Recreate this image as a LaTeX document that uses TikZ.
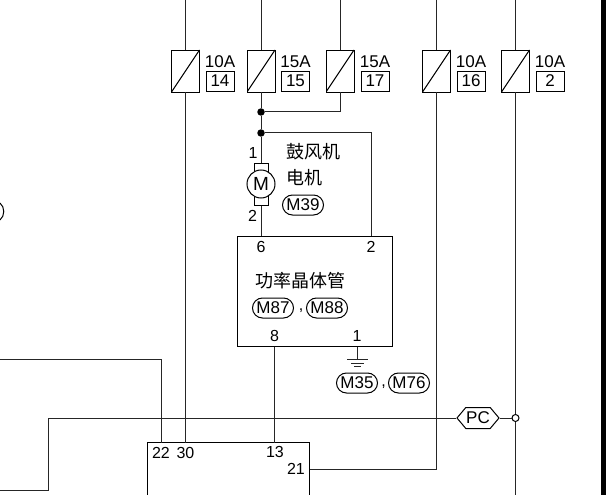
\documentclass[tikz,border=0pt]{standalone}
\usepackage{fontspec}
\setmainfont{Liberation Sans}
\newfontfamily\cjk{Noto Sans CJK SC}
\usetikzlibrary{positioning, shapes.misc, shapes.symbols}

\begin{document}
\begin{tikzpicture}[
        x=1pt, y=-1pt,
        node distance=6pt,
        every node/.style={font=\fontsize{16}{18}\selectfont, inner sep=0pt},
        fuse/.style={rectangle, draw, line width=0.9pt, minimum width=28pt, minimum height=42pt,
            path picture={\draw[line width=1pt] (path picture bounding box.south west) -- (path picture bounding box.north east);}},
        rating/.style={font=\fontsize{17}{18}\selectfont},
        fusebox/.style={rectangle, draw, line width=0.9pt, minimum width=28pt, minimum height=20pt, font=\fontsize{17}{18}\selectfont},
        conn/.style={rounded rectangle, draw, line width=1pt, minimum width=41pt, minimum height=20pt, font=\fontsize{17}{18}\selectfont},
        unit/.style={rectangle, draw, line width=1pt, anchor=north west},
        wire/.style={line width=1pt, black!85},
        dot/.style={circle, fill=black, minimum size=7.5pt},
        cjklabel/.style={font=\cjk\fontsize{18}{20}\selectfont}
    ]
        \useasboundingbox (0,0) rectangle (606,495);

        % fuses along the top
        \node[fuse] (f14) at (185.5,71) {};
        \node[fuse] (f15) at (261,71) {};
        \node[fuse] (f17) at (340,71) {};
        \node[fuse] (f16) at (436.5,71) {};
        \node[fuse] (f2) at (515.5,71) {};
        \node[fusebox] (b14) at (220,81) {14};
        \node[fusebox] (b15) at (295.5,81) {15};
        \node[fusebox] (b17) at (375,81) {17};
        \node[fusebox] (b16) at (471,81) {16};
        \node[fusebox] (b2) at (550,81) {2};
        \node[rating, above=3pt of b14] (a14) {10A};
        \node[rating, above=3pt of b15] (a15) {15A};
        \node[rating, above=3pt of b17] (a17) {15A};
        \node[rating, above=3pt of b16] (a16) {10A};
        \node[rating, above=3pt of b2] (a2) {10A};

        % blower motor
        \node[dot] (j1) at (261,112) {};
        \node[dot] (j2) at (261,133) {};
        \node[rectangle, draw, line width=1pt, minimum width=14pt, minimum height=42pt] (stub) at (261,184) {};
        \node[circle, draw, fill=white, line width=1pt, minimum size=28pt, font=\fontsize{19}{20}\selectfont] (motor) at (261,184) {M};
        \node (m1) at (253,153) {1};
        \node (m2) at (252.5,216) {2};
        \node[cjklabel] (blowa) at (313,152) {鼓风机};
        \node[cjklabel] (blowb) at (304,178) {电机};
        \node[conn] (m39) at (303,205) {M39};

        % power transistor
        \node[unit, minimum width=155pt, minimum height=110pt] (pwr) at (237,236) {};
        \node (p6) at (261,247) {6};
        \node (p2) at (371,247) {2};
        \node[cjklabel] (pwrname) at (300,281) {功率晶体管};
        \node[conn] (m87) at (273,308) {M87};
        \node[conn] (m88) at (327,308) {M88};
        \node (c1) at (301,311) {,};
        \node (p8) at (274.5,336) {8};
        \node (p1) at (357,336) {1};
        \coordinate (gnd) at (357,359);
        \node[conn] (m35) at (357,383) {M35};
        \node[conn] (m76) at (409,383) {M76};
        \node (c2) at (383.5,387) {,};

        % control unit, cut off by the page
        \draw[line width=0.9pt] (147.5,495) |- (309.5,442.5) -- (309.5,495);
        \coordinate (ecutop) at (147.5,442.5);
        \coordinate (ecuright) at (309.5,469);
        \node (e22) at (161,453) {22};
        \node (e30) at (185.5,453) {30};
        \node (e13) at (275,452) {13};
        \node (e21) at (296,469) {21};

        \node[signal, signal to=west and east, signal pointer angle=100, draw, line width=1pt,
            minimum width=42pt, minimum height=21pt, fill=white, font=\fontsize{17}{18}\selectfont] (pc) at (478,418) {PC};
        \node[circle, draw, line width=1pt, fill=white, minimum size=7pt] (tap) at (515.5,418) {};

        % supply wires
        \draw[wire] (f14.north) -- (185.5,0);
        \draw[wire] (f15.north) -- (261,0);
        \draw[wire] (f17.north) -- (340,0);
        \draw[wire] (f16.north) -- (436.5,0);
        \draw[wire] (f2.north) -- (515.5,0);
        \draw[wire] (f14.south) -- (f14.south |- ecutop);
        \draw[wire] (f15.south) -- (j1) -- (j2) -- (stub.north);
        \draw[wire] (f17.south) |- (j1);
        \draw[wire] (j2) -| (p2 |- pwr.north);
        \draw[wire] (stub.south) -- (stub.south |- pwr.north);
        \draw[wire] (f16.south) |- (ecuright);
        \draw[wire] (f2.south) -- (tap) -- (515.5,495);

        % signal wires
        \draw[wire] (pwr.south -| p8) -- (p8 |- ecutop);
        \draw[wire] (pwr.south -| gnd) -- (gnd);
        \draw[wire] (347,359) -- (368,359);
        \draw[wire] (351,363) -- (364,363);
        \draw[wire] (354,366.5) -- (361,366.5);
        \draw[wire] (0,359.5) -| (e22 |- ecutop);
        \draw[wire] (0,490) -| (48,418) -- (pc.west);
        \draw[wire] (pc.east) -- (tap);

        % cut off connector at the left edge, page edge on the right
        \draw[line width=1pt] (0,203) .. controls (5,207) and (5,216) .. (0,220);
        \fill (601,0) rectangle (606,495);
    \end{tikzpicture}
\end{document}
